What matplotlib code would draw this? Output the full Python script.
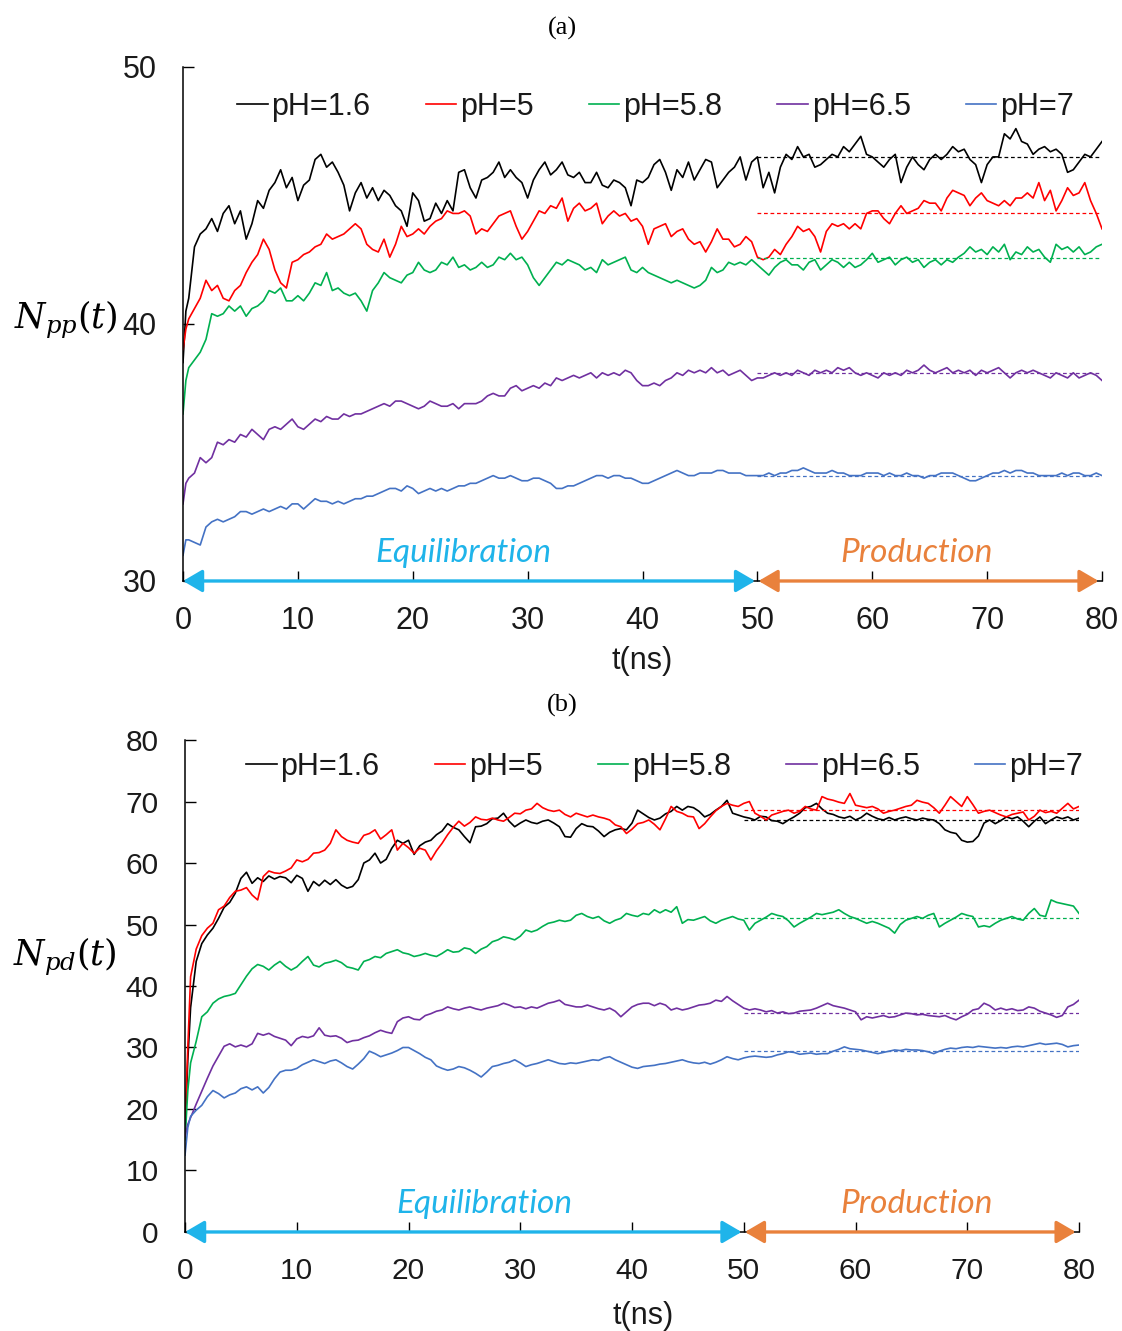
import numpy as np
import matplotlib
matplotlib.use("Agg")
import matplotlib.pyplot as plt

plt.rcParams["font.family"] = "Liberation Sans"
plt.rcParams["mathtext.fontset"] = "dejavuserif"

# time grid (ns): 0, 0.25, then every 0.5 ns up to 80
t = np.array([0, 0.25] + [0.5 * k for k in range(1, 161)])

labels = ["pH=1.6", "pH=5", "pH=5.8", "pH=6.5", "pH=7"]
colors = ["#000000", "#FF0000", "#00B050", "#7030A0", "#4472C4"]

# ---- panel (a): N_pp(t) ----
a_ph16 = [38.5, 40.5,
    41.0, 43.0, 43.5, 43.7, 44.1, 43.6, 44.3, 44.6, 43.9, 44.4,
    43.3, 43.9, 44.8, 44.5, 45.2, 45.5, 46.0, 45.3, 45.7, 44.8,
    45.4, 45.6, 46.4, 46.6, 46.1, 46.3, 45.9, 45.4, 44.4, 45.1,
    45.5, 44.9, 45.3, 44.8, 45.2, 45.0, 44.6, 44.4, 43.8, 45.1,
    44.8, 44.0, 44.1, 44.7, 44.3, 44.8, 44.4, 45.9, 46.0, 45.3,
    44.9, 45.6, 45.7, 45.9, 46.3, 45.7, 46.0, 45.7, 45.5, 44.9,
    45.6, 46.0, 46.3, 45.8, 46.0, 46.3, 45.8, 45.7, 45.9, 45.5,
    45.5, 45.9, 45.4, 45.3, 45.6, 45.5, 45.3, 44.6, 45.6, 45.5,
    45.7, 46.2, 46.4, 45.9, 45.2, 46.0, 45.7, 46.3, 45.6, 46.0,
    46.4, 46.3, 45.3, 45.6, 45.9, 46.1, 46.5, 45.6, 46.3, 46.5,
    45.3, 45.9, 45.1, 46.1, 46.6, 46.4, 46.9, 46.5, 46.6, 46.1,
    46.2, 46.4, 46.6, 46.5, 46.9, 46.7, 47.0, 47.3, 46.6, 46.5,
    46.3, 46.1, 46.4, 46.6, 45.5, 46.1, 46.5, 46.2, 46.0, 46.4,
    46.6, 46.4, 46.6, 46.9, 46.7, 46.8, 46.4, 46.2, 45.5, 46.2,
    46.5, 46.5, 47.4, 47.2, 47.6, 47.1, 47.0, 46.6, 46.8, 46.9,
    46.7, 46.8, 46.6, 45.9, 46.0, 46.3, 46.6, 46.5, 46.8, 47.1]
a_ph5 = [39.0, 39.8,
    40.2, 40.6, 41.0, 41.7, 41.3, 41.5, 41.0, 40.9, 41.3, 41.5,
    42.0, 42.4, 42.7, 43.3, 42.9, 42.1, 41.6, 41.4, 42.4, 42.5,
    42.7, 42.8, 43.0, 43.1, 43.5, 43.3, 43.4, 43.5, 43.7, 43.9,
    43.7, 43.1, 42.9, 42.8, 43.3, 42.6, 43.1, 43.8, 43.4, 43.5,
    43.7, 43.5, 43.8, 44.0, 44.1, 44.4, 44.3, 44.3, 44.4, 44.2,
    43.5, 43.7, 43.6, 43.9, 44.2, 44.3, 44.4, 43.8, 43.3, 43.6,
    44.0, 44.4, 44.3, 44.6, 44.5, 44.9, 44.0, 44.5, 44.7, 44.4,
    44.5, 44.7, 43.9, 44.2, 44.4, 44.2, 44.3, 44.0, 44.1, 43.8,
    43.1, 43.7, 43.8, 43.9, 43.4, 43.6, 43.7, 43.3, 43.1, 43.2,
    42.8, 43.2, 43.7, 43.3, 43.3, 43.0, 43.1, 43.4, 43.2, 42.6,
    42.5, 42.6, 42.9, 42.7, 43.1, 43.4, 43.8, 43.6, 43.7, 43.4,
    42.8, 43.6, 43.9, 43.8, 43.9, 43.7, 43.9, 43.7, 44.3, 44.4,
    44.4, 44.1, 43.9, 44.3, 44.6, 44.3, 44.4, 44.5, 44.8, 44.7,
    44.7, 44.4, 44.9, 45.2, 45.1, 45.0, 44.6, 44.9, 45.1, 44.8,
    44.7, 44.6, 44.8, 44.6, 44.9, 44.9, 45.1, 44.9, 45.5, 44.8,
    45.2, 44.4, 44.8, 45.3, 45.0, 45.1, 45.5, 44.8, 44.3, 43.7]
a_ph58 = [36.5, 37.8,
    38.3, 38.6, 38.9, 39.4, 40.4, 40.3, 40.4, 40.7, 40.5, 40.7,
    40.3, 40.6, 40.7, 40.9, 41.3, 41.2, 41.4, 40.9, 40.9, 41.1,
    40.9, 41.2, 41.6, 41.5, 42.0, 41.3, 41.4, 41.2, 41.1, 41.2,
    40.9, 40.5, 41.3, 41.6, 42.0, 41.8, 41.7, 41.6, 41.9, 42.0,
    42.4, 42.1, 42.0, 42.1, 42.4, 42.3, 42.6, 42.2, 42.3, 42.1,
    42.2, 42.4, 42.2, 42.3, 42.6, 42.5, 42.75, 42.5, 42.6, 42.3,
    41.8, 41.5, 41.8, 42.1, 42.4, 42.3, 42.5, 42.4, 42.3, 42.1,
    42.2, 42.0, 42.5, 42.3, 42.4, 42.5, 42.6, 42.1, 42.0, 42.2,
    42.0, 41.9, 41.8, 41.7, 41.6, 41.7, 41.6, 41.5, 41.4, 41.5,
    41.7, 42.2, 42.0, 42.1, 42.4, 42.3, 42.4, 42.3, 42.5, 42.3,
    42.1, 41.9, 42.2, 42.4, 42.5, 42.3, 42.3, 42.1, 42.4, 42.5,
    42.1, 42.3, 42.5, 42.4, 42.2, 42.4, 42.2, 42.3, 42.5, 42.75,
    42.4, 42.5, 42.6, 42.3, 42.5, 42.6, 42.4, 42.5, 42.2, 42.4,
    42.5, 42.3, 42.5, 42.4, 42.6, 42.75, 43.0, 42.8, 42.9, 42.7,
    43.0, 42.8, 43.1, 42.5, 42.8, 42.7, 43.0, 42.8, 42.9, 42.6,
    42.4, 43.1, 42.9, 43.0, 42.8, 43.0, 42.7, 42.8, 43.0, 43.1]
a_ph65 = [33.0, 33.8,
    34.0, 34.2, 34.8, 34.6, 34.8, 35.4, 35.3, 35.5, 35.4, 35.7,
    35.6, 35.9, 35.7, 35.5, 35.9, 36.0, 35.9, 36.1, 36.3, 36.0,
    35.9, 36.1, 36.3, 36.2, 36.4, 36.3, 36.3, 36.5, 36.4, 36.5,
    36.5, 36.6, 36.7, 36.8, 36.9, 36.8, 37.0, 37.0, 36.9, 36.8,
    36.7, 36.8, 37.0, 36.9, 36.8, 36.8, 36.9, 36.7, 36.9, 36.9,
    36.9, 37.0, 37.2, 37.3, 37.2, 37.2, 37.5, 37.6, 37.4, 37.5,
    37.6, 37.5, 37.7, 37.6, 37.9, 37.8, 37.9, 38.0, 37.9, 38.0,
    38.1, 37.9, 38.1, 38.0, 38.1, 38.0, 38.2, 38.1, 37.8, 37.6,
    37.6, 37.7, 37.6, 37.8, 37.9, 38.1, 38.0, 38.2, 38.1, 38.2,
    38.1, 38.3, 38.1, 38.2, 38.0, 38.1, 38.2, 38.0, 37.8, 37.9,
    37.9, 38.0, 38.1, 38.0, 38.1, 38.0, 38.2, 38.1, 38.0, 38.2,
    38.1, 38.2, 38.1, 38.3, 38.2, 38.3, 38.1, 38.0, 38.1, 38.0,
    37.9, 38.1, 38.0, 38.1, 38.0, 38.2, 38.1, 38.2, 38.4, 38.2,
    38.1, 38.2, 38.3, 38.1, 38.2, 38.1, 38.2, 38.0, 38.2, 38.1,
    38.2, 38.3, 38.1, 37.9, 38.1, 38.2, 38.1, 38.2, 38.1, 38.0,
    37.9, 38.1, 38.0, 37.9, 38.1, 37.9, 38.0, 38.1, 38.0, 37.8]
a_ph7 = [31.0, 31.6,
    31.6, 31.5, 31.4, 32.1, 32.3, 32.4, 32.3, 32.4, 32.5, 32.7,
    32.7, 32.6, 32.7, 32.8, 32.7, 32.8, 32.9, 32.8, 33.0, 33.0,
    32.8, 33.0, 33.2, 33.1, 33.1, 33.0, 33.1, 33.0, 33.1, 33.2,
    33.2, 33.3, 33.3, 33.4, 33.5, 33.6, 33.6, 33.5, 33.7, 33.6,
    33.4, 33.5, 33.6, 33.5, 33.6, 33.5, 33.6, 33.7, 33.7, 33.8,
    33.8, 33.9, 34.0, 34.1, 34.0, 34.0, 34.1, 34.0, 33.9, 33.9,
    34.0, 34.0, 33.9, 33.8, 33.6, 33.6, 33.7, 33.7, 33.8, 33.9,
    34.0, 34.1, 34.1, 34.0, 34.1, 34.1, 34.0, 34.0, 33.9, 33.8,
    33.8, 33.9, 34.0, 34.1, 34.2, 34.3, 34.2, 34.1, 34.1, 34.2,
    34.2, 34.2, 34.3, 34.3, 34.2, 34.2, 34.2, 34.1, 34.1, 34.1,
    34.1, 34.2, 34.1, 34.2, 34.2, 34.3, 34.3, 34.4, 34.3, 34.2,
    34.2, 34.2, 34.3, 34.2, 34.2, 34.1, 34.1, 34.1, 34.2, 34.2,
    34.2, 34.1, 34.2, 34.1, 34.1, 34.2, 34.1, 34.1, 34.0, 34.1,
    34.1, 34.2, 34.2, 34.2, 34.1, 34.0, 33.9, 33.9, 34.0, 34.1,
    34.2, 34.2, 34.3, 34.2, 34.3, 34.3, 34.2, 34.2, 34.1, 34.1,
    34.1, 34.1, 34.2, 34.1, 34.2, 34.2, 34.1, 34.1, 34.2, 34.1]
a_means = [46.5, 44.3, 42.55, 38.1, 34.1]

# ---- panel (b): N_pd(t) ----
b_ph16 = [16.0, 28.0,
    36.5, 44.0, 46.9, 48.3, 49.4, 51.0, 52.8, 53.6, 55.1, 57.5,
    58.5, 56.7, 57.6, 57.0, 57.9, 57.4, 57.8, 57.6, 56.8, 58.0,
    57.5, 55.4, 57.0, 56.3, 57.2, 56.5, 57.3, 56.4, 55.9, 56.2,
    57.3, 60.0, 60.5, 61.6, 60.0, 60.6, 62.4, 63.7, 63.2, 63.7,
    61.4, 62.8, 63.4, 63.7, 64.6, 65.2, 66.4, 65.8, 65.4, 64.3,
    63.3, 65.9, 66.0, 66.4, 67.2, 67.3, 68.1, 66.8, 65.9, 66.5,
    67.0, 66.6, 66.4, 66.8, 67.0, 66.5, 65.9, 64.3, 64.2, 65.6,
    66.4, 66.0, 65.9, 65.2, 64.3, 65.0, 65.4, 65.6, 65.4, 66.5,
    68.6, 68.0, 67.4, 67.0, 67.3, 68.0, 68.4, 69.2, 68.6, 69.2,
    69.0, 68.4, 67.5, 67.9, 68.6, 69.2, 70.2, 68.1, 67.8, 67.5,
    67.3, 67.0, 67.6, 67.5, 66.9, 66.8, 66.4, 67.0, 67.5, 68.1,
    69.0, 69.2, 69.7, 68.8, 68.1, 67.9, 67.5, 67.3, 67.6, 67.0,
    67.4, 68.1, 67.6, 67.2, 67.0, 67.4, 67.0, 67.3, 67.5, 67.2,
    67.0, 67.3, 67.1, 67.0, 66.4, 65.4, 65.0, 64.8, 63.7, 63.4,
    63.5, 64.4, 66.5, 67.0, 66.4, 66.9, 67.5, 67.2, 67.5, 66.8,
    65.9, 66.8, 67.5, 66.4, 67.0, 67.5, 67.2, 67.5, 67.0, 67.3]
b_ph5 = [18.0, 30.0,
    41.5, 46.0, 48.2, 49.4, 50.2, 52.4, 53.0, 54.4, 55.4, 55.6,
    56.0, 54.8, 54.0, 57.8, 58.7, 58.4, 58.3, 58.7, 59.2, 60.5,
    60.2, 60.6, 61.6, 61.7, 62.1, 63.2, 65.4, 64.3, 63.7, 63.4,
    63.2, 64.5, 64.8, 65.4, 63.9, 64.6, 65.4, 62.1, 63.2, 62.5,
    61.6, 62.4, 62.1, 60.5, 62.0, 63.2, 64.6, 65.8, 66.8, 66.0,
    66.6, 67.5, 67.1, 67.0, 67.3, 67.0, 66.8, 67.4, 68.1, 68.0,
    68.6, 68.8, 69.7, 69.0, 68.6, 68.4, 68.6, 67.9, 67.5, 68.1,
    67.8, 67.5, 67.8, 67.5, 67.3, 67.0, 66.2, 65.9, 64.8, 65.5,
    66.4, 66.6, 67.0, 66.3, 65.4, 67.2, 69.2, 68.4, 68.1, 67.6,
    67.5, 65.6, 66.4, 67.5, 68.5, 69.2, 69.7, 69.4, 69.2, 69.7,
    70.0, 68.1, 67.6, 67.0, 67.8, 68.1, 68.4, 68.6, 68.1, 68.4,
    69.2, 68.8, 68.6, 70.8, 70.4, 70.2, 69.9, 69.7, 71.3, 69.4,
    69.2, 69.0, 69.2, 68.8, 68.1, 68.4, 68.6, 68.9, 69.2, 69.4,
    70.2, 69.9, 69.7, 69.0, 68.1, 69.4, 70.8, 70.0, 69.2, 70.8,
    69.5, 68.1, 68.4, 68.6, 68.2, 67.8, 67.5, 67.9, 68.1, 68.3,
    67.0, 67.6, 68.6, 68.2, 68.4, 68.1, 68.9, 69.7, 68.8, 69.2]
b_ph58 = [15.0, 23.0,
    27.5, 31.0, 35.0, 35.8, 37.2, 37.9, 38.3, 38.5, 38.8, 40.2,
    41.6, 42.8, 43.5, 43.2, 42.6, 43.4, 44.0, 43.2, 42.6, 43.1,
    44.0, 44.8, 43.4, 43.1, 43.7, 43.9, 44.2, 43.8, 43.1, 42.9,
    42.6, 44.0, 44.3, 44.8, 44.6, 45.3, 45.6, 45.9, 45.4, 45.2,
    44.8, 45.0, 45.3, 45.0, 44.8, 45.3, 45.9, 45.5, 45.6, 46.2,
    46.0, 45.3, 46.0, 46.4, 47.2, 47.5, 48.0, 47.8, 47.5, 48.1,
    49.1, 48.8, 49.1, 49.7, 50.2, 50.4, 50.7, 50.5, 50.7, 51.5,
    51.8, 51.3, 51.0, 51.3, 50.6, 50.2, 50.7, 51.0, 51.8, 51.5,
    51.3, 51.8, 51.6, 52.4, 51.9, 52.4, 52.0, 52.9, 50.2, 50.8,
    50.7, 51.0, 51.3, 50.6, 50.2, 50.7, 51.0, 51.3, 50.9, 50.7,
    49.1, 50.2, 50.7, 51.2, 51.8, 51.5, 51.3, 50.6, 49.6, 50.2,
    50.7, 51.2, 51.8, 51.6, 51.8, 52.0, 52.4, 51.8, 51.3, 51.0,
    50.6, 50.2, 50.5, 50.2, 49.8, 49.4, 48.6, 50.0, 50.7, 51.0,
    51.3, 51.0, 51.5, 51.8, 49.6, 50.2, 50.7, 51.2, 51.8, 51.5,
    51.3, 49.6, 49.8, 49.6, 50.2, 50.7, 51.0, 51.3, 50.9, 50.7,
    51.8, 52.6, 51.5, 51.3, 54.0, 53.6, 53.4, 53.2, 53.0, 51.8]
b_ph65 = [15.5, 17.5,
    18.6, 20.8, 22.9, 25.0, 27.0, 28.6, 30.2, 30.6, 30.1, 30.4,
    30.1, 30.6, 32.3, 32.0, 32.3, 31.8, 31.5, 31.2, 30.3, 31.4,
    31.8, 31.6, 31.9, 33.2, 32.0, 31.8, 31.9, 31.5, 30.8, 31.1,
    31.2, 31.6, 31.9, 32.4, 32.8, 32.5, 32.3, 34.2, 34.8, 35.0,
    34.6, 34.5, 35.2, 35.5, 35.9, 36.1, 36.6, 36.3, 36.1, 36.4,
    36.6, 36.3, 36.1, 36.4, 36.6, 36.8, 37.2, 36.9, 36.5, 36.6,
    36.3, 36.6, 36.4, 36.8, 37.2, 37.4, 37.7, 37.0, 36.8, 36.6,
    36.6, 36.9, 36.6, 36.3, 36.1, 36.4, 35.9, 35.0, 35.8, 36.6,
    37.0, 37.2, 37.2, 36.8, 37.2, 36.9, 36.1, 36.4, 36.1, 36.3,
    36.6, 36.9, 37.0, 37.2, 37.7, 37.5, 38.3, 37.6, 37.0, 36.4,
    36.1, 36.3, 36.1, 35.8, 36.0, 35.6, 35.8, 35.5, 35.6, 35.9,
    36.0, 36.1, 36.4, 36.8, 37.2, 36.8, 36.6, 36.4, 36.1, 35.8,
    34.5, 35.0, 34.8, 35.0, 35.2, 34.9, 35.0, 35.3, 35.6, 35.5,
    35.3, 35.4, 35.2, 35.1, 35.0, 35.2, 34.8, 34.5, 35.0, 35.4,
    36.1, 36.3, 37.2, 36.8, 36.1, 36.4, 36.1, 36.3, 36.0, 36.1,
    36.6, 36.4, 35.9, 35.6, 35.3, 34.9, 35.2, 36.6, 37.0, 37.7]
b_ph7 = [12.5, 17.0,
    18.8, 19.8, 20.6, 22.0, 23.0, 22.5, 21.8, 22.3, 22.6, 23.3,
    23.6, 23.1, 23.6, 22.6, 23.5, 24.9, 26.0, 26.3, 26.3, 26.6,
    27.2, 27.6, 28.0, 27.7, 27.4, 27.8, 28.0, 27.5, 26.9, 26.5,
    27.3, 28.2, 29.4, 29.0, 28.5, 28.8, 29.1, 29.5, 30.0, 30.0,
    29.5, 29.0, 28.4, 28.0, 27.0, 26.6, 26.3, 26.5, 26.9, 26.7,
    26.3, 25.8, 25.2, 26.0, 26.9, 27.1, 27.4, 27.6, 28.0, 27.5,
    26.9, 27.2, 27.4, 27.7, 28.0, 27.7, 27.4, 27.3, 27.5, 27.4,
    27.6, 27.8, 28.0, 27.9, 28.3, 28.5, 28.0, 27.6, 27.2, 26.8,
    26.6, 26.9, 27.0, 27.1, 27.3, 27.4, 27.6, 27.8, 28.0, 27.7,
    27.5, 27.4, 27.6, 27.3, 27.6, 28.0, 28.5, 28.2, 28.0, 28.3,
    28.5, 28.6, 28.5, 28.4, 28.5, 28.8, 29.0, 29.3, 29.2, 28.9,
    29.0, 29.1, 28.9, 29.0, 29.0, 29.4, 29.7, 30.1, 29.8, 29.7,
    29.6, 29.4, 29.2, 29.0, 29.2, 29.4, 29.6, 29.5, 29.7, 29.6,
    29.6, 29.5, 29.3, 29.0, 29.4, 29.7, 29.9, 29.8, 30.0, 30.1,
    30.0, 30.2, 30.1, 30.0, 29.9, 30.0, 29.9, 30.1, 30.2, 30.1,
    30.3, 30.5, 30.7, 30.5, 30.6, 30.7, 30.5, 30.1, 30.3, 30.4]
b_means = [67.0, 68.7, 51.0, 35.6, 29.5]

EQ_COLOR = "#1FB4EA"
PR_COLOR = "#E9813C"


def draw_panel(ax, series, means, ylim, yticks, tick_fs, leg_anchor, eq_pos, pr_pos):
    for y, m, c, lab in zip(series, means, colors, labels):
        ax.plot(t, y, color=c, lw=1.2, label=lab)
        ax.plot([50, 80], [m, m], color=c, lw=0.9, dashes=(3, 2.2))
    ax.set_xlim(0, 80)
    ax.set_ylim(*ylim)
    ax.set_xticks(range(0, 81, 10))
    ax.set_yticks(yticks)
    for s in ["top", "right"]:
        ax.spines[s].set_visible(False)
    ax.spines["left"].set_linewidth(1.1)
    ax.spines["bottom"].set_linewidth(1.1)
    ax.tick_params(axis="x", direction="in", length=7, width=1.0, pad=18,
                   labelsize=tick_fs)
    ax.tick_params(axis="y", direction="in", length=8, width=1.0, pad=19,
                   labelsize=tick_fs)
    for lab in ax.get_xticklabels() + ax.get_yticklabels():
        lab.set_color("#1a1a1a")

    leg = ax.legend(ncol=5, loc="center left", bbox_to_anchor=leg_anchor,
                    frameon=False, fontsize=22, handlelength=1.0,
                    handletextpad=0.13, columnspacing=1.8, borderpad=0,
                    borderaxespad=0)
    for txt in leg.get_texts():
        txt.set_color("#1a1a1a")

    y0 = ylim[0]
    ax.annotate("", xy=(49.8, y0), xytext=(0, y0),
                arrowprops=dict(arrowstyle="<|-|>,head_length=0.65,head_width=0.38",
                                color=EQ_COLOR, lw=2.4, mutation_scale=18,
                                shrinkA=0, shrinkB=0), annotation_clip=False)
    ax.annotate("", xy=(79.7, y0), xytext=(50.1, y0),
                arrowprops=dict(arrowstyle="<|-|>,head_length=0.65,head_width=0.38",
                                color=PR_COLOR, lw=2.4, mutation_scale=18,
                                shrinkA=0, shrinkB=0), annotation_clip=False)
    ax.text(eq_pos[0], eq_pos[1], "Equilibration", family="Lato", style="italic",
            fontsize=24, color=EQ_COLOR, ha="center", va="baseline")
    ax.text(pr_pos[0], pr_pos[1], "Production", family="Lato", style="italic",
            fontsize=24, color=PR_COLOR, ha="center", va="baseline")


fig = plt.figure(figsize=(11.22, 13.31), dpi=100)

ax1 = fig.add_axes([0.1631, 0.5635, 0.8191, 0.3862])
draw_panel(ax1, [a_ph16, a_ph5, a_ph58, a_ph65, a_ph7], a_means,
           (30, 50), [30, 40, 50], 22, (0.0588, 0.922),
           (24.4, 30.73), (63.9, 30.73))

ax2 = fig.add_axes([0.1649, 0.0744, 0.7968, 0.3696])
draw_panel(ax2, [b_ph16, b_ph5, b_ph58, b_ph65, b_ph7], b_means,
           (0, 80), list(range(0, 81, 10)), 21.5, (0.0682, 0.945),
           (26.8, 3.1), (65.5, 3.1))

fig.text(562 / 1122, 1 - 28 / 1331, "(a)", family="Liberation Serif",
         fontsize=19, ha="center", va="center")
fig.text(562 / 1122, 1 - 705 / 1331, "(b)", family="Liberation Serif",
         fontsize=19, ha="center", va="center")

fig.text(66 / 1122, 1 - 328 / 1331, r"$N_{pp}(t)$", fontsize=25,
         ha="center", va="baseline")
fig.text(65 / 1122, 1 - 965 / 1331, r"$N_{pd}(t)$", fontsize=25,
         ha="center", va="baseline")

fig.text(642 / 1122, 1 - 661 / 1331, "t(ns)", fontsize=22, color="#1a1a1a",
         ha="center", va="center")
fig.text(643 / 1122, 1 - 1316 / 1331, "t(ns)", fontsize=22, color="#1a1a1a",
         ha="center", va="center")

fig.savefig("out.png", dpi=100)
